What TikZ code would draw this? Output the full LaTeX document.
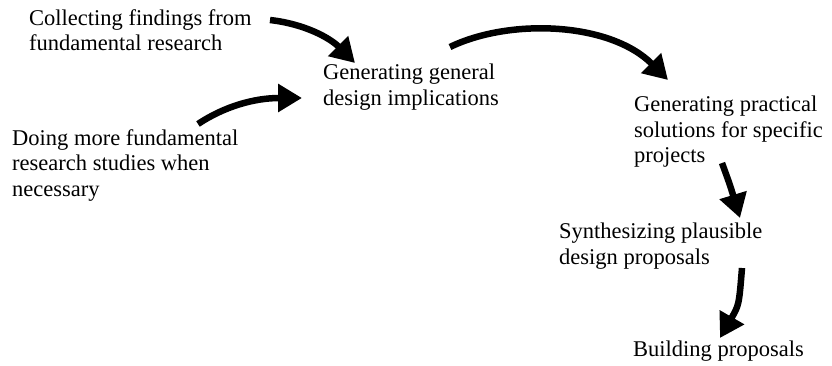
\documentclass[tikz,border=0pt]{standalone}
\usepackage{fontspec}
\setmainfont{Liberation Serif}
\usetikzlibrary{arrows.meta}
\tikzset{
  lbl/.style={anchor=north west, inner sep=0pt, align=left,
    font=\fontsize{22.5pt}{25.5pt}\selectfont},
  flow/.style={line width=6.5pt, -{Triangle[length=24pt,width=27pt]}}
}
\begin{document}
\begin{tikzpicture}[x=1pt,y=-1pt]
\useasboundingbox (0,0) rectangle (832,366);
\node[lbl] (collect) at (29,9) {Collecting findings from\\fundamental research};
\node[lbl] (general) at (323,64) {Generating general\\design implications};
\node[lbl] (doing) at (12,129) {Doing more fundamental\\research studies when\\necessary};
\node[lbl] (practical) at (634,96) {Generating practical\\solutions for specific\\projects};
\node[lbl] (synth) at (559,223) {Synthesizing plausible\\design proposals};
\node[lbl] (build) at (633,341) {Building proposals};
\coordinate (a1s) at (270,20);
\coordinate (a1e) at (355,63);
\coordinate (a2s) at (198,124);
\coordinate (a2e) at (302,98);
\coordinate (a3s) at (450,47);
\coordinate (a3e) at (668,80);
\coordinate (a4s) at (722,163);
\coordinate (a4e) at (740,218);
\coordinate (a5s) at (742,268);
\coordinate (a5e) at (720,338);
\draw[flow] (a1s) .. controls (305,24) and (330,38) .. (a1e);
\draw[flow] (a2s) .. controls (225,106) and (255,98) .. (a2e);
\draw[flow] (a3s) .. controls (510,18) and (610,22) .. (a3e);
\draw[flow] (a4s) .. controls (730,185) .. (a4e);
\draw[flow] (a5s) .. controls (739,305) .. (a5e);
\end{tikzpicture}
\end{document}
